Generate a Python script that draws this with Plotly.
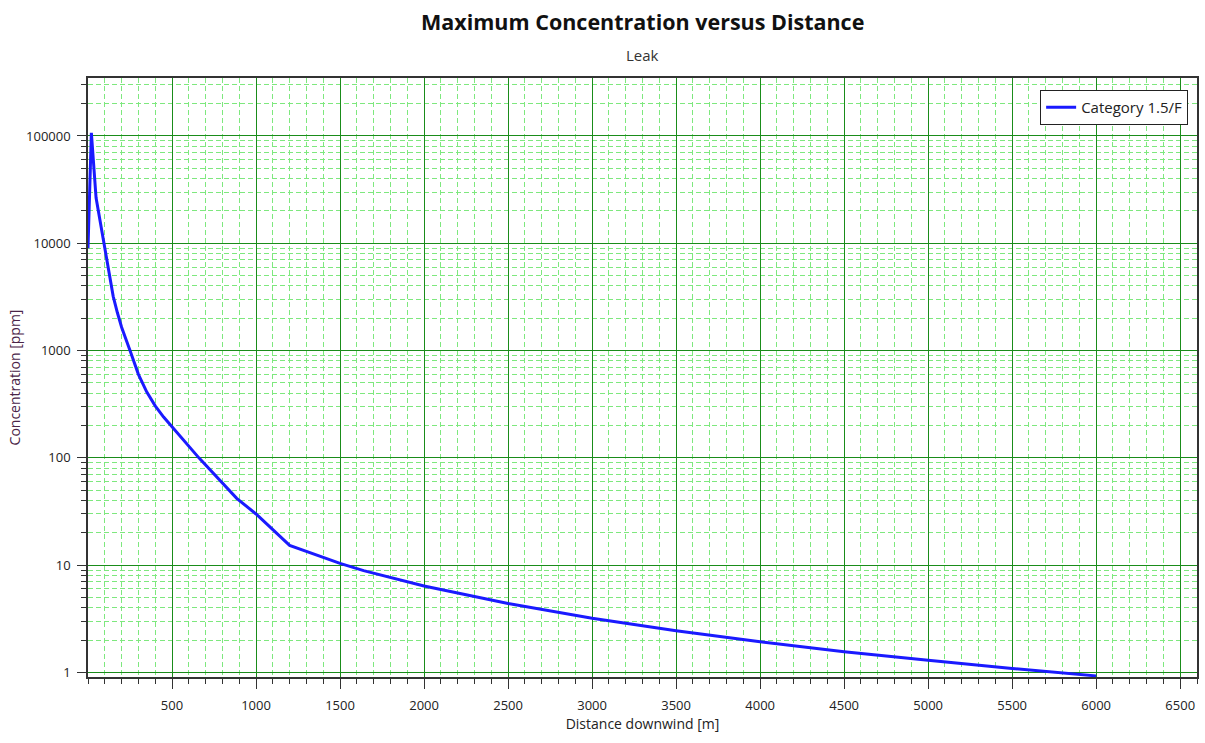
import plotly.graph_objects as go

# Data
distance_m = [0, 20, 48, 75, 100, 125, 150, 175, 200, 250, 300, 350, 400, 450, 500,
              660, 885, 1000, 1200, 1340, 1500, 1640, 2000, 2200, 2500, 3000, 3500,
              4000, 4500, 5000, 5500, 6000]
concentration_ppm = [9000, 107000, 26500, 15000, 8800, 5000, 3200, 2250, 1650, 1000,
                     600, 410, 305, 240, 195, 100, 42, 30, 15.3, 12.7, 10.4, 8.9, 6.4,
                     5.5, 4.4, 3.2, 2.45, 1.93, 1.56, 1.30, 1.09, 0.93]
series_name = "Category 1.5/F"
x_tick_vals = [500, 1000, 1500, 2000, 2500, 3000, 3500, 4000, 4500, 5000, 5500, 6000, 6500]
y_tick_vals = [1, 10, 100, 1000, 10000, 100000]
y_tick_text = ["1", "10", "100", "1000", "10000", "100000"]

FONT = "Open Sans"
MAJOR_GRID = "#1a8c1a"
MINOR_GRID = "#7ee87e"
AXIS_LINE = "#333333"

fig = go.Figure()
fig.add_trace(go.Scatter(
    x=distance_m, y=concentration_ppm, mode="lines", name=series_name,
    line=dict(color="#1a1aff", width=3),
))

fig.update_layout(
    width=1205, height=743,
    margin=dict(l=88, r=8, t=78, b=66, autoexpand=False),
    paper_bgcolor="white", plot_bgcolor="white",
    font=dict(family=FONT, size=13, color="#222222"),
    showlegend=True,
    legend=dict(
        x=0.992, xanchor="right", y=0.98, yanchor="top",
        bgcolor="white", bordercolor="#222222", borderwidth=1,
        font=dict(family=FONT, size=15, color="#222222"),
        itemwidth=30,
    ),
    annotations=[
        dict(text="<b>Maximum Concentration versus Distance</b>",
             xref="paper", yref="paper", x=0.5, y=1 + (78 - 22) / 599,
             xanchor="center", yanchor="middle", showarrow=False,
             font=dict(family=FONT, size=21.5, color="#111111")),
        dict(text="Leak",
             xref="paper", yref="paper", x=0.5, y=1 + (78 - 55) / 599,
             xanchor="center", yanchor="middle", showarrow=False,
             font=dict(family=FONT, size=15, color="#333333")),
    ],
)

fig.update_xaxes(
    range=[0, 6600], automargin=False,
    tickmode="array", tickvals=x_tick_vals,
    ticks="outside", ticklen=10, tickcolor=AXIS_LINE, tickwidth=1,
    ticklabelstandoff=6,
    showline=True, linecolor=AXIS_LINE, linewidth=1.5, mirror=True,
    showgrid=True, gridcolor=MAJOR_GRID, gridwidth=1.4,
    zeroline=False,
    minor=dict(dtick=100, tick0=0, ticks="outside", ticklen=5, tickcolor=AXIS_LINE,
               showgrid=True, gridcolor=MINOR_GRID, griddash="5px,3px", gridwidth=1),
    title=dict(text="Distance downwind [m]", standoff=6,
               font=dict(family=FONT, size=14, color="#222222")),
    tickfont=dict(family=FONT, size=13, color="#222222"),
)

fig.update_yaxes(
    type="log", automargin=False,
    range=[-0.042, 5.54],
    tickmode="array", tickvals=y_tick_vals, ticktext=y_tick_text,
    ticks="outside", ticklen=9, tickcolor=AXIS_LINE, tickwidth=1,
    ticklabelstandoff=4,
    showline=True, linecolor=AXIS_LINE, linewidth=1.5, mirror=True,
    showgrid=True, gridcolor=MAJOR_GRID, gridwidth=1.4,
    zeroline=False,
    minor=dict(dtick="D1", ticks="outside", ticklen=5, tickcolor=AXIS_LINE,
               showgrid=True, gridcolor=MINOR_GRID, griddash="5px,3px", gridwidth=1),
    title=dict(text="Concentration [ppm]", standoff=2,
               font=dict(family=FONT, size=14, color="#4a2448")),
    tickfont=dict(family=FONT, size=13, color="#222222"),
)

fig.write_html("out.html", config={"displayModeBar": False},
               post_script="document.body.style.margin='0';")
